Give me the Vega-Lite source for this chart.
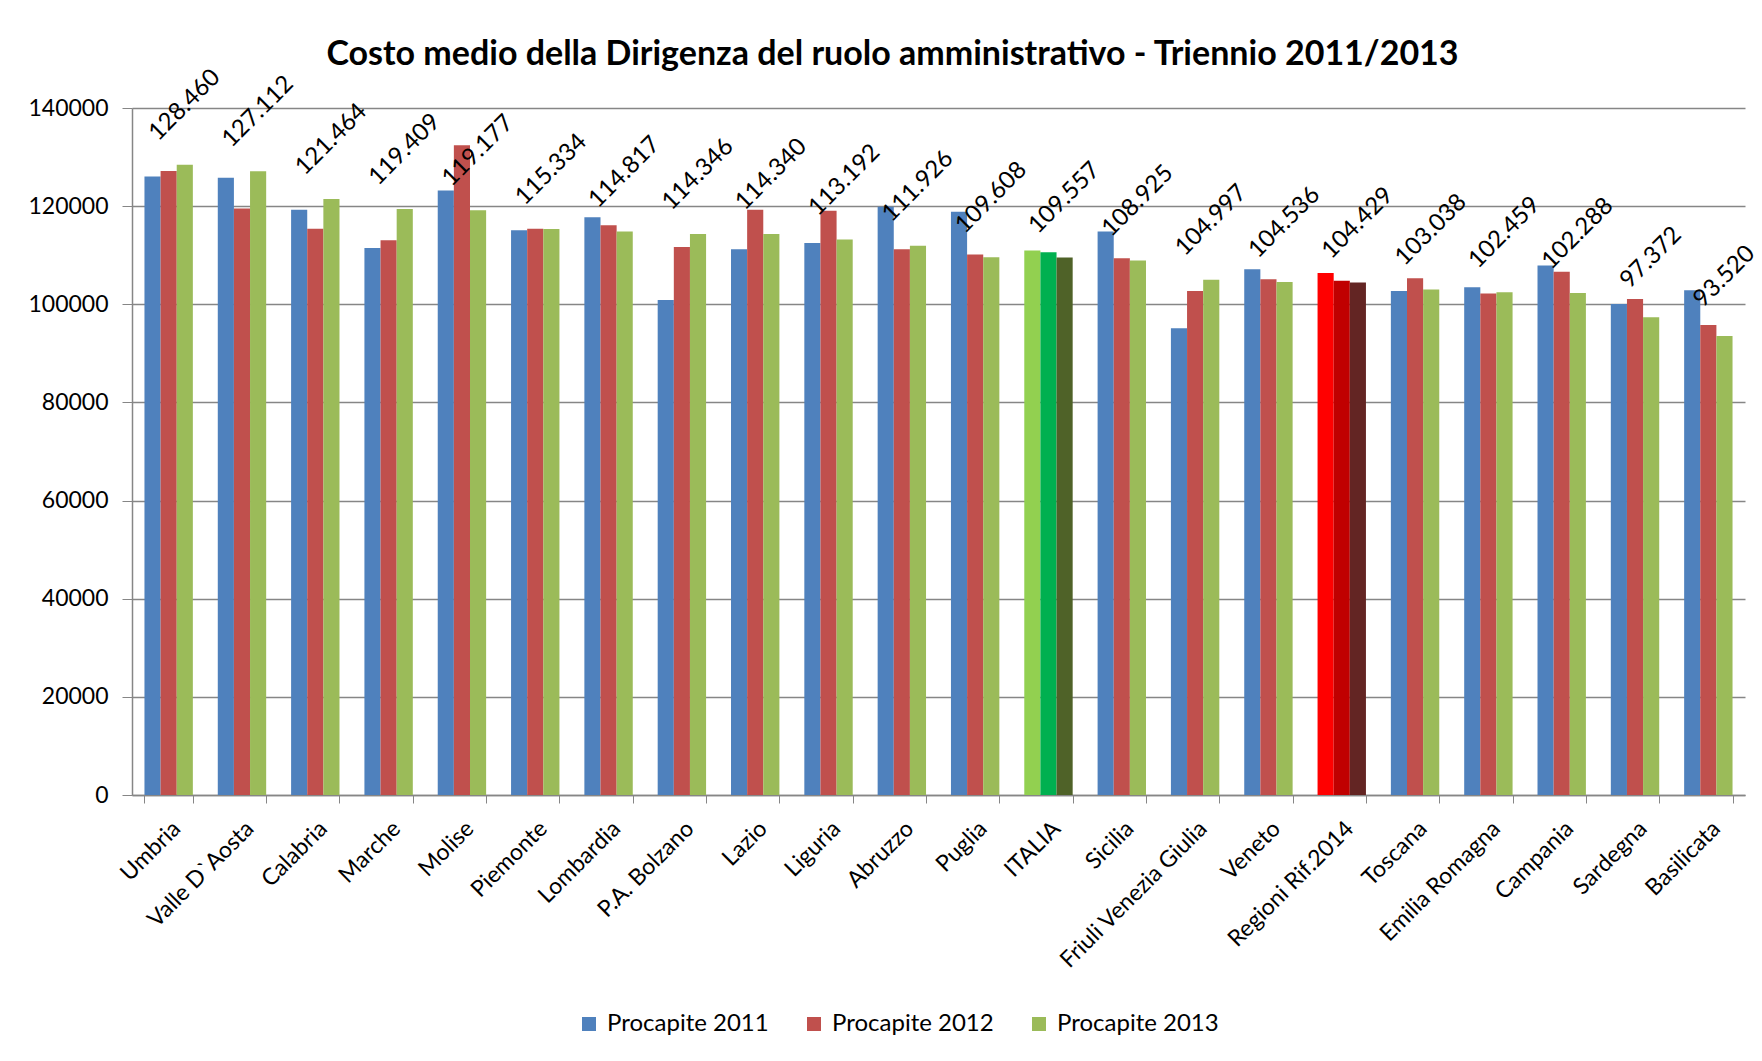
{
  "$schema": "https://vega.github.io/schema/vega-lite/v6.json",
  "autosize": {"type": "none"},
  "width": 1613,
  "height": 687,
  "padding": {"left": 132, "top": 108, "right": 17, "bottom": 266},
  "background": "white",
  "title": {
    "text": "Costo medio della Dirigenza del ruolo amministrativo - Triennio 2011/2013",
    "font": "Lato",
    "fontSize": 34,
    "fontWeight": "bold",
    "color": "#000000",
    "anchor": "middle",
    "dx": -46,
    "offset": -7
  },
  "config": {
    "locale": {"number": {"decimal": ",", "thousands": ".", "grouping": [3], "currency": ["€", ""]}},
    "view": {"stroke": null},
    "font": "Lato"
  },
  "data": {
    "values": [
      {"regione": "Umbria", "serie": "Procapite 2011", "valore": 126060},
      {"regione": "Umbria", "serie": "Procapite 2012", "valore": 127150},
      {"regione": "Umbria", "serie": "Procapite 2013", "valore": 128460},
      {"regione": "Valle D`Aosta", "serie": "Procapite 2011", "valore": 125790},
      {"regione": "Valle D`Aosta", "serie": "Procapite 2012", "valore": 119520},
      {"regione": "Valle D`Aosta", "serie": "Procapite 2013", "valore": 127112},
      {"regione": "Calabria", "serie": "Procapite 2011", "valore": 119250},
      {"regione": "Calabria", "serie": "Procapite 2012", "valore": 115370},
      {"regione": "Calabria", "serie": "Procapite 2013", "valore": 121464},
      {"regione": "Marche", "serie": "Procapite 2011", "valore": 111490},
      {"regione": "Marche", "serie": "Procapite 2012", "valore": 113050},
      {"regione": "Marche", "serie": "Procapite 2013", "valore": 119409},
      {"regione": "Molise", "serie": "Procapite 2011", "valore": 123200},
      {"regione": "Molise", "serie": "Procapite 2012", "valore": 132400},
      {"regione": "Molise", "serie": "Procapite 2013", "valore": 119177},
      {"regione": "Piemonte", "serie": "Procapite 2011", "valore": 115100},
      {"regione": "Piemonte", "serie": "Procapite 2012", "valore": 115370},
      {"regione": "Piemonte", "serie": "Procapite 2013", "valore": 115334},
      {"regione": "Lombardia", "serie": "Procapite 2011", "valore": 117750},
      {"regione": "Lombardia", "serie": "Procapite 2012", "valore": 116120},
      {"regione": "Lombardia", "serie": "Procapite 2013", "valore": 114817},
      {"regione": "P.A. Bolzano", "serie": "Procapite 2011", "valore": 100890},
      {"regione": "P.A. Bolzano", "serie": "Procapite 2012", "valore": 111690},
      {"regione": "P.A. Bolzano", "serie": "Procapite 2013", "valore": 114346},
      {"regione": "Lazio", "serie": "Procapite 2011", "valore": 111220},
      {"regione": "Lazio", "serie": "Procapite 2012", "valore": 119250},
      {"regione": "Lazio", "serie": "Procapite 2013", "valore": 114340},
      {"regione": "Liguria", "serie": "Procapite 2011", "valore": 112510},
      {"regione": "Liguria", "serie": "Procapite 2012", "valore": 119050},
      {"regione": "Liguria", "serie": "Procapite 2013", "valore": 113192},
      {"regione": "Abruzzo", "serie": "Procapite 2011", "valore": 119860},
      {"regione": "Abruzzo", "serie": "Procapite 2012", "valore": 111220},
      {"regione": "Abruzzo", "serie": "Procapite 2013", "valore": 111926},
      {"regione": "Puglia", "serie": "Procapite 2011", "valore": 118840},
      {"regione": "Puglia", "serie": "Procapite 2012", "valore": 110130},
      {"regione": "Puglia", "serie": "Procapite 2013", "valore": 109608},
      {"regione": "ITALIA", "serie": "Procapite 2011", "valore": 110940},
      {"regione": "ITALIA", "serie": "Procapite 2012", "valore": 110600},
      {"regione": "ITALIA", "serie": "Procapite 2013", "valore": 109557},
      {"regione": "Sicilia", "serie": "Procapite 2011", "valore": 114820},
      {"regione": "Sicilia", "serie": "Procapite 2012", "valore": 109380},
      {"regione": "Sicilia", "serie": "Procapite 2013", "valore": 108925},
      {"regione": "Friuli Venezia Giulia", "serie": "Procapite 2011", "valore": 95100},
      {"regione": "Friuli Venezia Giulia", "serie": "Procapite 2012", "valore": 102720},
      {"regione": "Friuli Venezia Giulia", "serie": "Procapite 2013", "valore": 104997},
      {"regione": "Veneto", "serie": "Procapite 2011", "valore": 107150},
      {"regione": "Veneto", "serie": "Procapite 2012", "valore": 105100},
      {"regione": "Veneto", "serie": "Procapite 2013", "valore": 104536},
      {"regione": "Regioni Rif.2014", "serie": "Procapite 2011", "valore": 106370},
      {"regione": "Regioni Rif.2014", "serie": "Procapite 2012", "valore": 104800},
      {"regione": "Regioni Rif.2014", "serie": "Procapite 2013", "valore": 104429},
      {"regione": "Toscana", "serie": "Procapite 2011", "valore": 102720},
      {"regione": "Toscana", "serie": "Procapite 2012", "valore": 105310},
      {"regione": "Toscana", "serie": "Procapite 2013", "valore": 103038},
      {"regione": "Emilia Romagna", "serie": "Procapite 2011", "valore": 103470},
      {"regione": "Emilia Romagna", "serie": "Procapite 2012", "valore": 102180},
      {"regione": "Emilia Romagna", "serie": "Procapite 2013", "valore": 102459},
      {"regione": "Campania", "serie": "Procapite 2011", "valore": 107900},
      {"regione": "Campania", "serie": "Procapite 2012", "valore": 106620},
      {"regione": "Campania", "serie": "Procapite 2013", "valore": 102288},
      {"regione": "Sardegna", "serie": "Procapite 2011", "valore": 100070},
      {"regione": "Sardegna", "serie": "Procapite 2012", "valore": 101090},
      {"regione": "Sardegna", "serie": "Procapite 2013", "valore": 97372},
      {"regione": "Basilicata", "serie": "Procapite 2011", "valore": 102860},
      {"regione": "Basilicata", "serie": "Procapite 2012", "valore": 95780},
      {"regione": "Basilicata", "serie": "Procapite 2013", "valore": 93520}
    ]
  },
  "encoding": {
    "x": {
      "field": "regione",
      "type": "nominal",
      "sort": null,
      "scale": {"paddingInner": 0.34, "paddingOuter": 0.17},
      "axis": {
        "title": null,
        "labelAngle": -45,
        "labelFont": "Lato",
        "labelFontSize": 23,
        "labelColor": "#000000",
        "labelPadding": 14,
        "labelLimit": 400,
        "tickBand": "extent",
        "tickSize": 8,
        "tickColor": "#868686",
        "domainColor": "#868686",
        "domainWidth": 1.5,
        "grid": false
      }
    },
    "y": {
      "field": "valore",
      "type": "quantitative",
      "scale": {"domain": [0, 140000], "nice": false},
      "axis": {
        "title": null,
        "values": [0, 20000, 40000, 60000, 80000, 100000, 120000, 140000],
        "format": "d",
        "labelFont": "Lato",
        "labelFontSize": 23,
        "labelColor": "#000000",
        "labelPadding": 14,
        "tickSize": 10,
        "tickColor": "#868686",
        "domainColor": "#868686",
        "domainWidth": 1.5,
        "grid": true,
        "gridColor": "#868686",
        "gridWidth": 1.5
      }
    },
    "xOffset": {"field": "serie", "type": "nominal", "sort": ["Procapite 2011", "Procapite 2012", "Procapite 2013"], "scale": {"paddingInner": 0, "paddingOuter": 0}}
  },
  "layer": [
    {
      "mark": {"type": "bar"},
      "encoding": {
        "color": {
          "field": "serie",
          "type": "nominal",
          "scale": {"domain": ["Procapite 2011", "Procapite 2012", "Procapite 2013"], "range": ["#4F81BD", "#C0504D", "#9BBB59"]},
          "legend": {
            "title": null,
            "orient": "none",
            "direction": "horizontal",
            "legendX": 445,
            "legendY": 904,
            "symbolType": "square",
            "symbolSize": 196,
            "symbolStrokeWidth": 0,
            "symbolOpacity": 1,
            "labelFont": "Lato",
            "labelFontSize": 24,
            "labelColor": "#000000",
            "labelLimit": 400,
            "labelOffset": 6,
            "columnPadding": 33,
            "padding": 0
          },
          "condition": [
            {"test": "datum.regione === 'ITALIA' && datum.serie === 'Procapite 2011'", "value": "#92D050"},
            {"test": "datum.regione === 'ITALIA' && datum.serie === 'Procapite 2012'", "value": "#00B050"},
            {"test": "datum.regione === 'ITALIA' && datum.serie === 'Procapite 2013'", "value": "#4F6228"},
            {"test": "datum.regione === 'Regioni Rif.2014' && datum.serie === 'Procapite 2011'", "value": "#FF0000"},
            {"test": "datum.regione === 'Regioni Rif.2014' && datum.serie === 'Procapite 2012'", "value": "#C00000"},
            {"test": "datum.regione === 'Regioni Rif.2014' && datum.serie === 'Procapite 2013'", "value": "#632523"}
          ]
        }
      }
    },
    {
      "transform": [{"filter": "datum.serie === 'Procapite 2013'"}],
      "mark": {
        "type": "text",
        "angle": -45,
        "align": "center",
        "baseline": "middle",
        "dx": 42,
        "dy": -42,
        "font": "Lato",
        "fontSize": 24,
        "color": "#000000"
      },
      "encoding": {
        "text": {"field": "valore", "type": "quantitative", "format": ",.0f"}
      }
    }
  ]
}
